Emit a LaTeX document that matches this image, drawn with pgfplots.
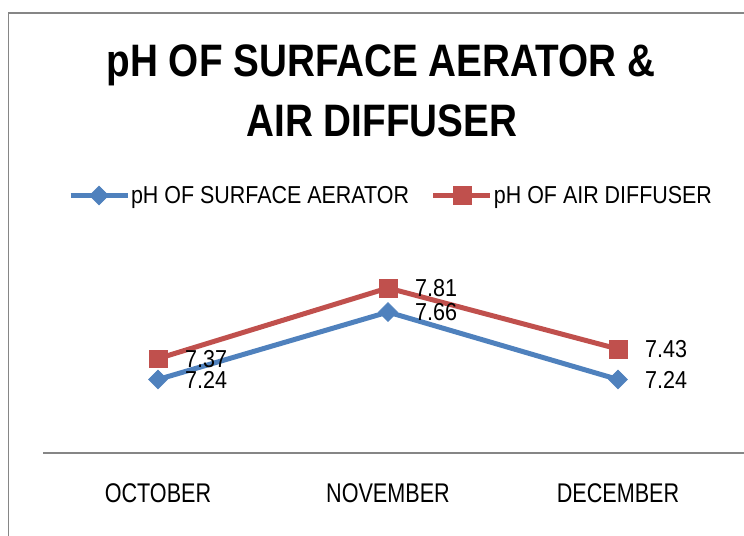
\documentclass[border=0pt]{standalone}
\usepackage{fontspec}
\usepackage{pgfplots}
\pgfplotsset{compat=1.18}
\newfontfamily\titlefont[FakeStretch=0.85]{Liberation Sans}
\newfontfamily\legfont[FakeStretch=0.875]{Liberation Sans}
\newfontfamily\lblfont[FakeStretch=0.88]{Liberation Sans}
\newfontfamily\catfont[FakeStretch=0.8]{Liberation Sans}
\definecolor{sblue}{HTML}{4F81BD}
\definecolor{sred}{HTML}{C0504D}
\definecolor{agray}{HTML}{868686}
\begin{document}
\begin{tikzpicture}[x=1bp,y=1bp]
\path[use as bounding box] (0,0) rectangle (744,536);
\draw[agray, line width=1.5bp] (8.5,0) -- (8.5,523) -- (746,523);
\node[anchor=base, inner sep=0pt] at (381,459) {\titlefont\bfseries\fontsize{45.5bp}{50bp}\selectfont pH OF SURFACE AERATOR \&};
\node[anchor=base, inner sep=0pt] at (382,399) {\titlefont\bfseries\fontsize{45.5bp}{50bp}\selectfont AIR DIFFUSER};
\begin{axis}[
  at={(43bp,83bp)}, anchor=south west,
  scale only axis, width=701bp, height=195.5bp,
  xmin=-0.5, xmax=2.548, ymin=6.782, ymax=8.0,
  axis x line=bottom, axis y line=none,
  x axis line style={draw=agray, line width=1.5bp, -},
  xtick={0,1,2}, xticklabels={OCTOBER,NOVEMBER,DECEMBER},
  major tick length=0pt, ytick=\empty,
  xticklabel style={anchor=base, yshift=-50bp, inner sep=0pt, font=\catfont\fontsize{27bp}{30bp}\selectfont},
  clip=false,
  point meta=explicit symbolic,
  nodes near coords,
  nodes near coords style={anchor=west, xshift=27bp, inner sep=0pt, text=black, font=\lblfont\fontsize{24.5bp}{28bp}\selectfont},
  legend columns=2,
  legend style={draw=none, fill=none, at={(0.0357,1.317)}, anchor=west, inner sep=0pt, outer sep=0pt,
    font=\legfont\fontsize{24.5bp}{28bp}\selectfont, nodes={inner sep=0pt},
    /tikz/every odd column/.append style={column sep=1bp},
    /tikz/every even column/.append style={column sep=22bp}},
  legend image code/.code={\draw[mark repeat=2,mark phase=2,#1] plot coordinates {(0bp,0bp)(28.5bp,0bp)(57bp,0bp)};},
]
\addplot[sblue, line width=5bp, mark=diamond*, mark size=9.5bp, mark options={xscale=1.333, line width=0.5bp}]
  coordinates {(0,7.24)[7.24] (1,7.66)[7.66] (2,7.24)[7.24]};
\addlegendentry{pH OF SURFACE AERATOR}
\addplot[sred, line width=5bp, mark=square*, mark size=8.8bp, mark options={line width=0.5bp}]
  coordinates {(0,7.37)[7.37] (1,7.81)[7.81] (2,7.43)[7.43]};
\addlegendentry{pH OF AIR DIFFUSER}
\end{axis}
\end{tikzpicture}
\end{document}
